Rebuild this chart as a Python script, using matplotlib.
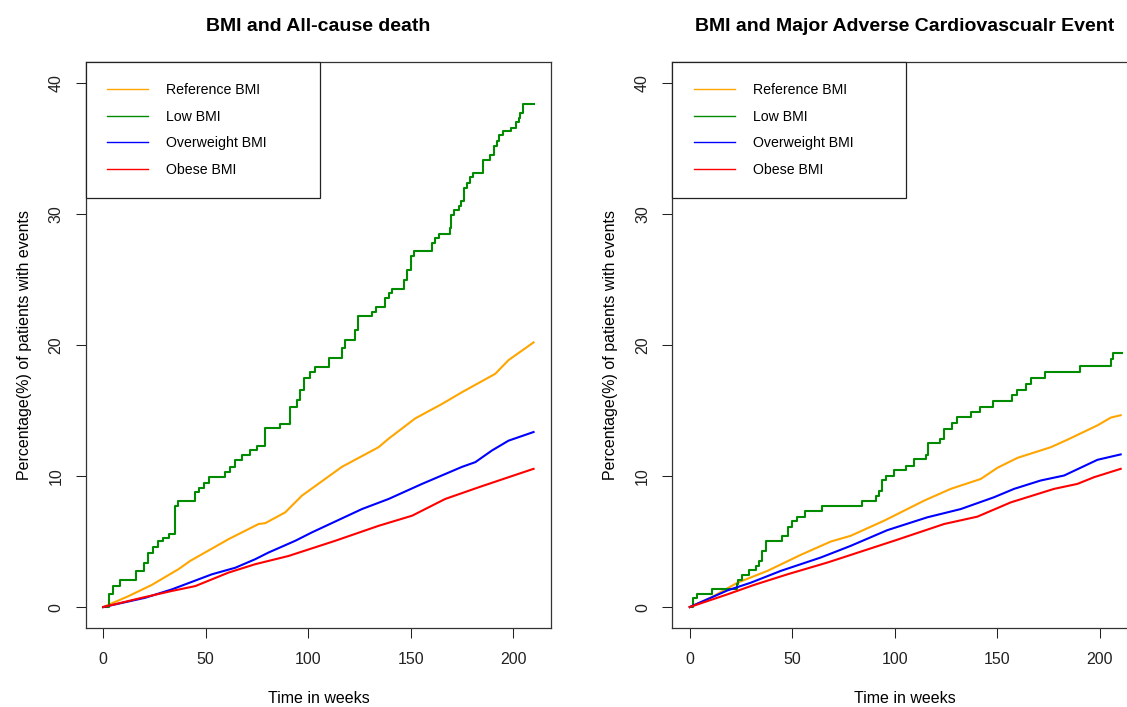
import matplotlib
matplotlib.use("Agg")
import matplotlib.pyplot as plt

plt.rcParams["font.family"] = ["Liberation Sans", "DejaVu Sans"]

groups = ["Reference BMI", "Low BMI", "Overweight BMI", "Obese BMI"]
colors = ["#FFA500", "#008B00", "#0000FF", "#FF0000"]

# ---- all-cause death (cumulative %, weeks) ----
death_ref_t = [0, 12.4, 23.7, 36.7, 42.4, 61.1, 75.8, 79, 88.8, 96.9, 116.4, 134.3,
               139.2, 152.2, 165.2, 175, 191.2, 197.7, 209.9]
death_ref_y = [0, 0.84, 1.69, 2.89, 3.52, 5.18, 6.34, 6.4, 7.23, 8.5, 10.7, 12.2,
               12.85, 14.4, 15.5, 16.4, 17.8, 18.85, 20.2]

death_low_t = [0, 2.6, 5, 8, 16, 19.7, 22, 24.5, 26.5, 29, 31.9, 35.1, 36.7, 44.9,
               46.5, 49.4, 51.4, 59.5, 62, 64.4, 67.7, 71.7, 75, 79, 86, 91.2, 94.5,
               96.1, 97.7, 101, 103.4, 109.9, 116.4, 118, 122.9, 124.5, 131, 133,
               137.6, 139.2, 140.8, 146.5, 148.1, 150.2, 151.4, 160.3, 162, 164,
               169.3, 169.7, 171.2, 173.3, 174.5, 176.1, 177.4, 179, 180.3, 185,
               188.8, 190.7, 192, 193.2, 195, 199, 201.5, 202.6, 203.4, 204.7, 210.2]
death_low_y = [0, 1.0, 1.6, 2.1, 2.76, 3.4, 4.1, 4.55, 5.06, 5.3, 5.6, 7.7, 8.1, 8.76,
               9.1, 9.5, 9.9, 10.3, 10.7, 11.2, 11.6, 12.0, 12.3, 13.7, 14.0, 15.3, 15.8,
               16.55, 17.5, 17.95, 18.3, 19.0, 19.75, 20.4, 21.15, 22.2, 22.55, 22.9,
               23.6, 23.95, 24.3, 25.0, 25.75, 26.8, 27.15, 27.8, 28.2, 28.5,
               28.9, 29.9, 30.3, 30.6, 31.0, 32.0, 32.4, 32.8, 33.15, 34.1,
               34.5, 35.2, 35.6, 36.0, 36.3, 36.6, 37.0, 37.3, 37.7, 38.4, 38.4]

death_over_t = [0, 20.5, 33.5, 53, 64.4, 74.1, 80.6, 93.7, 101.8, 126.2, 139.2, 155.5,
                175, 181.5, 189.6, 197.7, 209.9]
death_over_y = [0, 0.71, 1.35, 2.5, 3.0, 3.65, 4.16, 5.06, 5.7, 7.48, 8.25, 9.4,
                10.7, 11.06, 11.95, 12.7, 13.36]

death_obese_t = [0, 18.9, 33.5, 44.9, 61.1, 74.1, 90.4, 113.2, 134.3, 150.6, 166.8,
                 183.1, 199.4, 209.9]
death_obese_y = [0, 0.71, 1.23, 1.6, 2.63, 3.27, 3.9, 5.06, 6.2, 6.97, 8.25,
                 9.14, 10.0, 10.55]

# ---- MACE (cumulative %, weeks) ----
mace_ref_t = [0, 10.2, 23.3, 37.9, 54.1, 68.8, 78.5, 94.8, 114.3, 127.3, 142, 150.1,
              159.9, 176.1, 184.2, 198.9, 205.4, 210.2]
mace_ref_y = [0, 0.71, 1.86, 2.76, 3.98, 5.0, 5.44, 6.59, 8.12, 9.02, 9.78, 10.63,
              11.39, 12.2, 12.77, 13.87, 14.46, 14.64]

mace_low_t = [0, 1.6, 3.7, 11, 22.9, 23.6, 25.7, 28.9, 32.2, 33.8, 35.5, 37.1, 45.2,
              47.7, 50.1, 52.5, 56.1, 64.7, 84.2, 90.7, 92.4, 94, 95.6, 99.7, 105.4,
              109.4, 115.1, 116, 122.2, 124.1, 128.1, 130.4, 137.3, 141.6, 147.7,
              157.4, 159.5, 164.2, 166.3, 173.2, 190.2, 205.4, 206.5, 211]
mace_low_y = [0, 0.67, 1.02, 1.4, 1.74, 2.04, 2.45, 2.81, 3.14, 3.52, 4.29, 5.06, 5.44,
              6.08, 6.59, 6.9, 7.36, 7.74, 8.12, 8.5, 8.89, 9.66, 10.04, 10.45, 10.8,
              11.27, 11.57, 12.49, 12.85, 13.6, 14.02, 14.53, 14.9, 15.3, 15.73,
              16.17, 16.6, 16.99, 17.45, 17.91, 18.42, 18.9, 19.36, 19.36]

mace_over_t = [0, 18.4, 29.8, 44.4, 63.9, 78.5, 96.4, 115.9, 132.2, 148.4, 158.2,
               171.2, 182.6, 198.9, 210.2]
mace_over_y = [0, 1.27, 1.86, 2.76, 3.78, 4.67, 5.87, 6.85, 7.48, 8.38, 9.02,
               9.66, 10.04, 11.24, 11.65]

mace_obese_t = [0, 18.4, 31.4, 47.7, 67.2, 99.7, 124.1, 140.3, 156.6, 177.7, 189.1,
                197.2, 210.2]
mace_obese_y = [0, 0.97, 1.69, 2.5, 3.4, 5.06, 6.34, 6.9, 7.99, 9.02, 9.4,
                9.91, 10.55]

x_ticks = [0, 50, 100, 150, 200]
y_ticks = [0, 10, 20, 30, 40]

panels = [
    ("BMI and All-cause death",
     [(death_ref_t, death_ref_y), (death_low_t, death_low_y),
      (death_over_t, death_over_y), (death_obese_t, death_obese_y)]),
    ("BMI and Major Adverse Cardiovascualr Event",
     [(mace_ref_t, mace_ref_y), (mace_low_t, mace_low_y),
      (mace_over_t, mace_over_y), (mace_obese_t, mace_obese_y)]),
]

fig = plt.figure(figsize=(11.27, 7.07), dpi=100)
positions = [[0.0763, 0.1117, 0.4126, 0.8006], [0.5967, 0.1117, 0.4126, 0.8006]]

for pos, (title, series) in zip(positions, panels):
    ax = fig.add_axes(pos)
    for i, (t, y) in enumerate(series):
        style = "steps-post" if groups[i] == "Low BMI" else "default"
        ax.plot(t, y, color=colors[i], lw=1.5, drawstyle=style, zorder=3)

    ax.set_xlim(-8.4, 218.4)
    ax.set_ylim(-1.6, 41.6)
    ax.set_xticks(x_ticks)
    ax.set_yticks(y_ticks)
    ax.tick_params(direction="out", length=7.2, width=0.75, labelsize=11.5,
                   colors="#222222")
    ax.tick_params(axis="x", pad=10)
    ax.tick_params(axis="y", pad=9)
    for lab in ax.get_yticklabels():
        lab.set_rotation(90)
        lab.set_va("center")
    for sp in ax.spines.values():
        sp.set_linewidth(0.9)
        sp.set_color("#333333")

    ax.set_title(title, fontsize=14, fontweight="bold", pad=22)
    ax.set_xlabel("Time in weeks", fontsize=11.5, labelpad=17)
    ax.set_ylabel("Percentage(%) of patients with events", fontsize=11.5, labelpad=12)

    handles = [plt.Line2D([], [], color=c, lw=1.0) for c in colors]
    leg = ax.legend(handles, groups, loc="upper left", bbox_to_anchor=(0, 0, 0.503, 1),
                    mode="expand", borderaxespad=0, fontsize=10.2, frameon=True,
                    fancybox=False, framealpha=1, edgecolor="#222222",
                    borderpad=1.5, labelspacing=0.88, handlelength=2.9,
                    handletextpad=1.27)
    leg.get_frame().set_linewidth(0.9)
    leg.set_zorder(5)

fig.savefig("out.png", dpi=100)
